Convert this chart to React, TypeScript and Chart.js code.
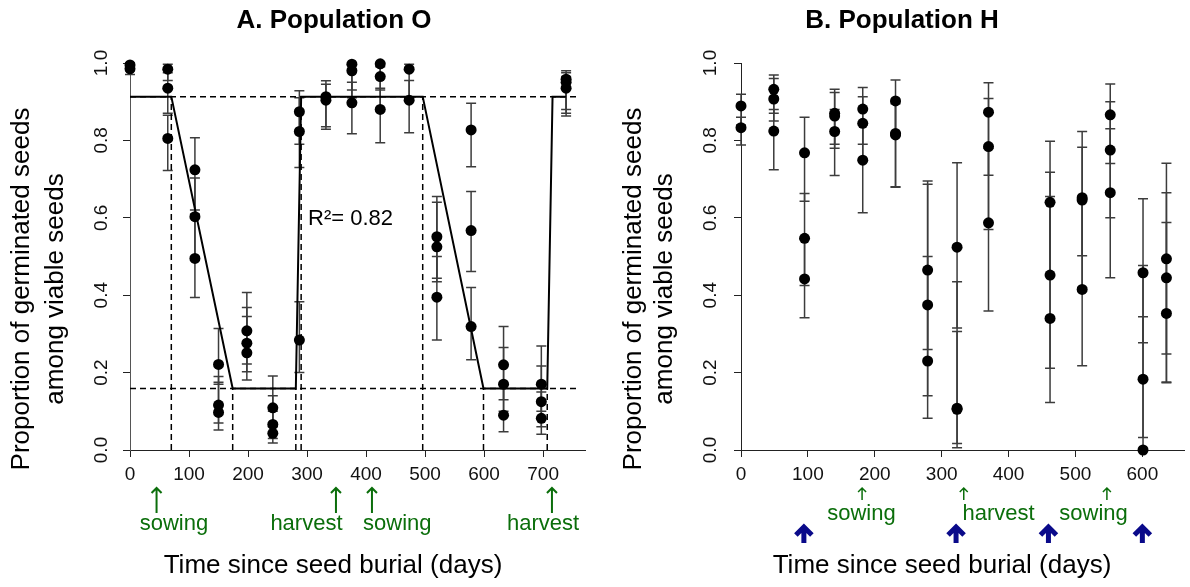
import React, { useEffect, useRef } from "react";
import { Chart, registerables } from "chart.js";

Chart.register(...registerables);

const FONT = '"Liberation Sans", Arial, Helvetica, sans-serif';

// ---------- Population O ----------
const daysO = [0, 0, 64, 64, 64, 110, 110, 110, 150, 150, 150, 198, 198, 198, 242, 242, 242, 287, 287, 287, 332, 332, 376, 376, 376, 424, 424, 424, 473, 473, 520, 520, 520, 578, 578, 578, 633, 633, 633, 697, 697, 697, 739, 739, 739];
const propO = [0.995, 0.985, 0.984, 0.935, 0.805, 0.724, 0.603, 0.495, 0.221, 0.116, 0.097, 0.308, 0.276, 0.251, 0.109, 0.066, 0.043, 0.874, 0.823, 0.284, 0.913, 0.904, 0.997, 0.98, 0.897, 0.998, 0.965, 0.88, 0.984, 0.904, 0.551, 0.525, 0.395, 0.827, 0.567, 0.319, 0.22, 0.17, 0.09, 0.17, 0.125, 0.082, 0.958, 0.95, 0.935];
const lowO = [0.98, 0.97, 0.955, 0.87, 0.722, 0.62, 0.5, 0.394, 0.17, 0.07, 0.052, 0.222, 0.202, 0.181, 0.06, 0.03, 0.018, 0.79, 0.73, 0.2, 0.829, 0.835, 0.93, 0.91, 0.817, 0.93, 0.88, 0.794, 0.91, 0.82, 0.444, 0.435, 0.284, 0.732, 0.461, 0.233, 0.13, 0.1, 0.047, 0.1, 0.06, 0.041, 0.88, 0.87, 0.863];
const highO = [1.0, 0.995, 0.997, 0.975, 0.865, 0.807, 0.703, 0.61, 0.314, 0.19, 0.175, 0.407, 0.368, 0.345, 0.191, 0.14, 0.1, 0.928, 0.91, 0.383, 0.954, 0.945, 1.0, 0.997, 0.95, 1.0, 0.99, 0.935, 0.997, 0.955, 0.655, 0.64, 0.5, 0.896, 0.668, 0.42, 0.319, 0.265, 0.17, 0.269, 0.217, 0.15, 0.98, 0.975, 0.965];

// segmented fit for population O
const fitDaysO = [0, 70, 174, 281, 290, 496, 599, 707, 716, 738];
const fitPropO = [0.913, 0.913, 0.159, 0.159, 0.913, 0.913, 0.159, 0.159, 0.913, 0.913];
const plateauLevelsO = [0.913, 0.159];
const plateauSpanO = [0, 760];
const breakDaysO = [70, 174, 281, 290, 496, 599, 707];
const breakLevelsO = [0.913, 0.159, 0.159, 0.913, 0.913, 0.159, 0.159];
const r2TextO = "R\u00b2= 0.82";

const eventArrowDaysO = [45, 349, 410, 715];
const eventLabelsO = ["sowing", "harvest", "sowing", "harvest"];
const eventLabelDaysO = [74.5, 299, 453, 700];

// ---------- Population H ----------
const daysH = [0, 0, 49, 49, 49, 95, 95, 95, 140, 140, 140, 182, 182, 182, 231, 231, 231, 279, 279, 279, 323, 323, 323, 370, 370, 370, 462, 462, 462, 510, 510, 510, 552, 552, 552, 601, 601, 601, 636, 636, 636];
const propH = [0.889, 0.833, 0.932, 0.907, 0.824, 0.768, 0.547, 0.442, 0.87, 0.863, 0.823, 0.881, 0.844, 0.749, 0.902, 0.818, 0.814, 0.465, 0.375, 0.23, 0.524, 0.108, 0.105, 0.873, 0.784, 0.587, 0.64, 0.452, 0.34, 0.652, 0.646, 0.415, 0.866, 0.775, 0.665, 0.458, 0.183, 0.0, 0.494, 0.445, 0.353];
const lowH = [0.84, 0.788, 0.87, 0.85, 0.724, 0.643, 0.425, 0.342, 0.79, 0.78, 0.709, 0.79, 0.75, 0.613, 0.82, 0.68, 0.679, 0.26, 0.14, 0.082, 0.315, 0.017, 0.006, 0.71, 0.57, 0.359, 0.455, 0.211, 0.123, 0.502, 0.42, 0.218, 0.74, 0.6, 0.445, 0.277, 0.032, 0.0, 0.248, 0.174, 0.176];
const highH = [0.919, 0.86, 0.969, 0.96, 0.88, 0.86, 0.663, 0.545, 0.932, 0.924, 0.88, 0.937, 0.913, 0.84, 0.956, 0.9, 0.895, 0.695, 0.687, 0.5, 0.742, 0.435, 0.306, 0.949, 0.908, 0.78, 0.798, 0.718, 0.655, 0.782, 0.823, 0.648, 0.946, 0.9, 0.83, 0.649, 0.477, 0.344, 0.741, 0.665, 0.588];

const eventArrowDaysH = [181, 333, 547];
const eventLabelsH = ["sowing", "harvest", "sowing"];
const eventLabelDaysH = [180, 385, 527];
const samplingArrowDaysH = [94, 321.5, 459.6, 600];

// ---------- axes ----------
const xTicksO = [0, 100, 200, 300, 400, 500, 600, 700];
const xTicksH = [0, 100, 200, 300, 400, 500, 600];
const yTicks = [0, 0.2, 0.4, 0.6, 0.8, 1.0];

const xTitle = "Time since seed burial (days)";
const yTitleLines = ["Proportion of germinated seeds", "among viable seeds"];

const GREEN = "#0b6e0b";
const BLUE = "#0a0a8a";

type Panel = {
  originX: number;
  days: number[];
  prop: number[];
  low: number[];
  high: number[];
  xMax: number;
  xTicks: number[];
  chartLeft: number;
  padRight: number;
  title: string;
  titleX: number;
  yTitleBaselines: number[];
  xTitleX: number;
  eventArrowDays: number[];
  eventLabels: string[];
  eventLabelDays: number[];
  eventArrowTail: number;
  eventHead: number;
  eventWidth: number;
  eventLabelBaseline: number;
  samplingArrowDays?: number[];
  fit?: boolean;
  r2?: string;
  yTickPad: number;
  yBorderColor: string;
};

function drawArrow(ctx: CanvasRenderingContext2D, x: number, tip: number, tail: number, head: number, width: number, color: string) {
  ctx.save();
  ctx.strokeStyle = color;
  ctx.lineWidth = width;
  ctx.lineCap = "butt";
  ctx.lineJoin = "miter";
  ctx.beginPath();
  ctx.moveTo(x, tail);
  ctx.lineTo(x, tip + 1);
  ctx.moveTo(x - head, tip + head);
  ctx.lineTo(x, tip);
  ctx.lineTo(x + head, tip + head);
  ctx.stroke();
  ctx.restore();
}

function overlay(p: Panel) {
  return {
    id: "overlay",
    beforeDatasetsDraw(chart: any) {
      const ctx: CanvasRenderingContext2D = chart.ctx;
      const xs = chart.scales.x;
      const ys = chart.scales.y;
      ctx.save();
      ctx.strokeStyle = "#3c3c3c";
      ctx.lineWidth = 1.5;
      for (let i = 0; i < p.days.length; i++) {
        const px = xs.getPixelForValue(p.days[i]);
        const a = ys.getPixelForValue(p.low[i]);
        const b = ys.getPixelForValue(p.high[i]);
        ctx.beginPath();
        ctx.moveTo(px, a);
        ctx.lineTo(px, b);
        ctx.moveTo(px - 5, a);
        ctx.lineTo(px + 5, a);
        ctx.moveTo(px - 5, b);
        ctx.lineTo(px + 5, b);
        ctx.stroke();
      }
      ctx.restore();
    },
    afterDraw(chart: any) {
      const ctx: CanvasRenderingContext2D = chart.ctx;
      const xs = chart.scales.x;
      const ox = p.originX;
      ctx.save();
      ctx.fillStyle = "#000";
      // title
      ctx.font = `bold 26px ${FONT}`;
      ctx.textAlign = "center";
      ctx.textBaseline = "alphabetic";
      ctx.fillText(p.title, p.titleX - ox, 28);
      // x title
      ctx.font = `26px ${FONT}`;
      ctx.fillText(xTitle, p.xTitleX - ox, 573);
      // y title (rotated)
      yTitleLines.forEach((line, i) => {
        ctx.save();
        ctx.translate(p.yTitleBaselines[i] - ox, 289);
        ctx.rotate(-Math.PI / 2);
        ctx.textAlign = "center";
        ctx.textBaseline = "alphabetic";
        ctx.fillText(line, 0, 0);
        ctx.restore();
      });
      // R^2
      if (p.r2) {
        ctx.font = `22px ${FONT}`;
        ctx.textAlign = "left";
        ctx.fillText(p.r2, 308 - ox, 225);
      }
      // event arrows and labels
      p.eventArrowDays.forEach((d) => {
        drawArrow(ctx, xs.getPixelForValue(d), 488, p.eventArrowTail, p.eventHead, p.eventWidth, GREEN);
      });
      ctx.fillStyle = GREEN;
      ctx.font = `22px ${FONT}`;
      ctx.textAlign = "center";
      p.eventLabels.forEach((lab, i) => {
        ctx.fillText(lab, xs.getPixelForValue(p.eventLabelDays[i]), p.eventLabelBaseline);
      });
      // sampling arrows
      (p.samplingArrowDays || []).forEach((d) => {
        drawArrow(ctx, xs.getPixelForValue(d), 527, 543, 8, 5, BLUE);
      });
      ctx.restore();
    },
  };
}

function buildConfig(p: Panel): any {
  const datasets: any[] = [
    {
      label: "observed",
      data: p.days.map((d, i) => ({ x: d, y: p.prop[i] })),
      showLine: false,
      pointRadius: 5.5,
      pointBackgroundColor: "#000",
      pointBorderColor: "#000",
      pointBorderWidth: 0,
      clip: false,
    },
  ];
  if (p.fit) {
    datasets.push({
      label: "fit",
      data: fitDaysO.map((d, i) => ({ x: d, y: fitPropO[i] })),
      showLine: true,
      borderColor: "#000",
      borderWidth: 2,
      pointRadius: 0,
      tension: 0,
      clip: false,
    });
    const dashed: any[] = [];
    plateauLevelsO.forEach((lv) => {
      dashed.push({ x: plateauSpanO[0], y: lv }, { x: plateauSpanO[1], y: lv }, { x: plateauSpanO[1], y: null });
    });
    breakDaysO.forEach((d, i) => {
      dashed.push({ x: d, y: 0 }, { x: d, y: breakLevelsO[i] }, { x: d, y: null });
    });
    datasets.push({
      label: "breakpoints",
      data: dashed,
      showLine: true,
      spanGaps: false,
      borderColor: "#000",
      borderWidth: 1.5,
      borderDash: [6, 4],
      pointRadius: 0,
      tension: 0,
      clip: false,
    });
  }
  return {
    type: "scatter",
    data: { datasets },
    options: {
      responsive: false,
      animation: false,
      events: [],
      layout: { padding: { left: 0, top: 63, right: p.padRight, bottom: 97 } },
      plugins: {
        legend: { display: false },
        tooltip: { enabled: false },
        title: { display: false },
      },
      scales: {
        x: {
          type: "linear",
          min: 0,
          max: p.xMax,
          afterBuildTicks: (s: any) => {
            s.ticks = p.xTicks.map((v) => ({ value: v }));
          },
          afterFit: (s: any) => {
            s.height = 40;
          },
          grid: { display: true, drawOnChartArea: false, drawTicks: true, tickLength: 7, color: "#222", lineWidth: 1 },
          border: { display: true, color: "#222", width: 1 },
          ticks: {
            autoSkip: false,
            minRotation: 0,
            maxRotation: 0,
            padding: 6,
            color: "#111",
            font: { family: FONT, size: 19 },
            callback: (v: any) => String(v),
          },
        },
        y: {
          type: "linear",
          min: 0,
          max: 1,
          afterBuildTicks: (s: any) => {
            s.ticks = yTicks.map((v) => ({ value: v }));
          },
          afterFit: (s: any) => {
            s.width = p.chartLeft;
          },
          grid: { display: true, drawOnChartArea: false, drawTicks: true, tickLength: 7, color: "#222", lineWidth: 1 },
          border: { display: true, color: p.yBorderColor, width: 1 },
          ticks: {
            autoSkip: false,
            minRotation: 90,
            maxRotation: 90,
            crossAlign: "center",
            padding: p.yTickPad,
            color: "#111",
            font: { family: FONT, size: 19 },
            callback: (v: any) => Number(v).toFixed(1),
          },
        },
      },
    },
    plugins: [overlay(p)],
  };
}

const panelO: Panel = {
  originX: 0,
  days: daysO,
  prop: propO,
  low: lowO,
  high: highO,
  xMax: 771,
  xTicks: xTicksO,
  chartLeft: 130,
  padRight: 10,
  title: "A. Population O",
  titleX: 334,
  yTitleBaselines: [29, 63],
  xTitleX: 333,
  eventArrowDays: eventArrowDaysO,
  eventLabels: eventLabelsO,
  eventLabelDays: eventLabelDaysO,
  eventArrowTail: 513,
  eventHead: 5,
  eventWidth: 2,
  eventLabelBaseline: 530,
  fit: true,
  r2: r2TextO,
  yTickPad: 8,
  yBorderColor: "#555",
};

const panelH: Panel = {
  originX: 595,
  days: daysH,
  prop: propH,
  low: lowH,
  high: highH,
  xMax: 663,
  xTicks: xTicksH,
  chartLeft: 146,
  padRight: 0,
  title: "B. Population H",
  titleX: 902,
  yTitleBaselines: [641, 672],
  xTitleX: 942,
  eventArrowDays: eventArrowDaysH,
  eventLabels: eventLabelsH,
  eventLabelDays: eventLabelDaysH,
  eventArrowTail: 500,
  eventHead: 4,
  eventWidth: 1.5,
  eventLabelBaseline: 520,
  samplingArrowDays: samplingArrowDaysH,
  yTickPad: 10,
  yBorderColor: "#222",
};

export default function App() {
  const refO = useRef<HTMLCanvasElement>(null);
  const refH = useRef<HTMLCanvasElement>(null);
  useEffect(() => {
    const c1 = new Chart(refO.current as HTMLCanvasElement, buildConfig(panelO));
    const c2 = new Chart(refH.current as HTMLCanvasElement, buildConfig(panelH));
    return () => {
      c1.destroy();
      c2.destroy();
    };
  }, []);
  return (
    <div style={{ position: "absolute", left: 0, top: 0, width: 1190, height: 587, background: "#fff" }}>
      <canvas ref={refO} width={595} height={587} style={{ position: "absolute", left: 0, top: 0 }} />
      <canvas ref={refH} width={595} height={587} style={{ position: "absolute", left: 595, top: 0 }} />
    </div>
  );
}
